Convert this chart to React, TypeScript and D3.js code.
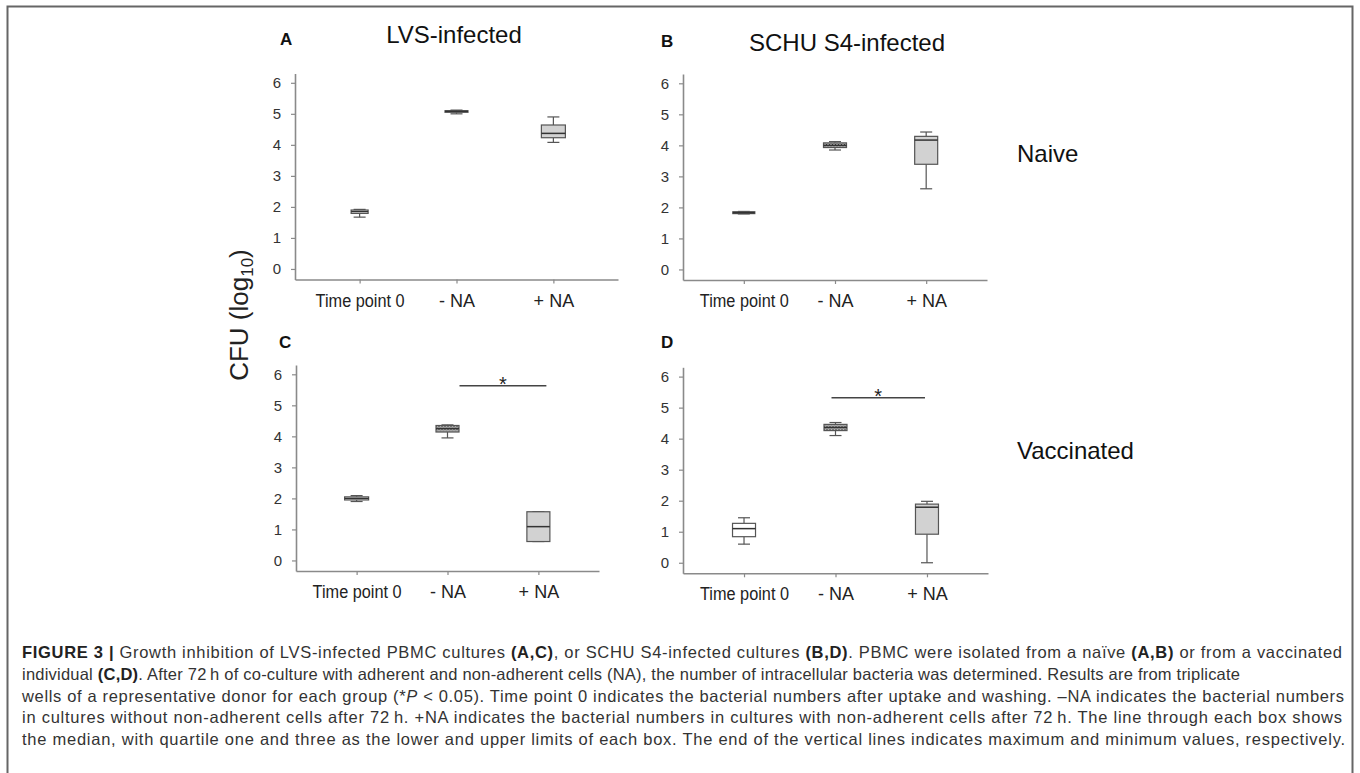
import React, { useEffect, useRef } from 'react';
import * as d3 from 'd3';

const categories = ['Time point 0', '- NA', '+ NA'];
const yTicks = [0, 1, 2, 3, 4, 5, 6];

// [min, q1, median, q3, max] per category, CFU (log10)
const lvsNaive = [
  [1.67, 1.79, 1.85, 1.9, 1.92],
  [5.0, 5.05, 5.08, 5.1, 5.12],
  [4.08, 4.23, 4.37, 4.64, 4.9],
];
const schuNaive = [
  [1.79, 1.8, 1.83, 1.86, 1.87],
  [3.85, 3.93, 4.0, 4.08, 4.12],
  [2.6, 3.39, 4.17, 4.29, 4.43],
];
const lvsVaccinated = [
  [1.9, 1.95, 2.0, 2.05, 2.09],
  [3.95, 4.14, 4.25, 4.35, 4.37],
  [0.61, 0.61, 1.09, 1.57, 1.57],
];
const schuVaccinated = [
  [0.6, 0.84, 1.1, 1.27, 1.45],
  [4.1, 4.26, 4.36, 4.46, 4.52],
  [0.0, 0.92, 1.79, 1.89, 1.98],
];
// significance bar level (-NA vs +NA)
const sigLvsVaccinated = 5.63;
const sigSchuVaccinated = 5.32;

const FONT = "'Liberation Sans', Arial, Helvetica, sans-serif";
const AXIS = '#8a8a8a';
const INK = '#555';
const plotHeight = 206;
const yDomain = [-0.34, 6.3];

const panels = [
  {
    key: 'A', title: 'LVS-infected', stats: lvsNaive,
    left: 295, width: 323, axisY: 279.5,
    titleX: 454, titleY: 43, letterX: 280, letterY: 45,
    fills: ['#fff', 'url(#hatch)', '#d2d2d2'], boxW: [17, 23, 24],
    sig: null, sigOff: [0, 0],
  },
  {
    key: 'B', title: 'SCHU S4-infected', stats: schuNaive,
    left: 683, width: 304, axisY: 280,
    titleX: 847, titleY: 50.5, letterX: 661, letterY: 46.5,
    fills: ['url(#hatch)', 'url(#hatch)', '#d2d2d2'], boxW: [22, 23, 23],
    sig: null, sigOff: [0, 0],
  },
  {
    key: 'C', title: '', stats: lvsVaccinated,
    left: 296, width: 303, axisY: 571,
    titleX: 0, titleY: 0, letterX: 279, letterY: 348,
    fills: ['#fff', 'url(#hatch)', '#d2d2d2'], boxW: [24, 23, 23],
    sig: sigLvsVaccinated, sigOff: [12, 8],
  },
  {
    key: 'D', title: '', stats: schuVaccinated,
    left: 683, width: 305, axisY: 573.3,
    titleX: 0, titleY: 0, letterX: 661, letterY: 348,
    fills: ['#fff', 'url(#hatch)', '#d2d2d2'], boxW: [23, 23, 23],
    sig: sigSchuVaccinated, sigOff: [-4, -2],
  },
];

function BoxPanel({ panel }: { panel: any }) {
  const ref = useRef<SVGGElement>(null);

  useEffect(() => {
    const g = d3.select(ref.current);
    g.selectAll('*').remove();

    const x = d3
      .scalePoint()
      .domain(categories)
      .range([panel.left, panel.left + panel.width])
      .padding(0.667);
    const y = d3
      .scaleLinear()
      .domain(yDomain)
      .range([panel.axisY, panel.axisY - plotHeight]);

    // y axis
    const yAxis = g
      .append('g')
      .attr('transform', `translate(${panel.left},0)`)
      .call(
        d3.axisLeft(y).tickValues(yTicks).tickSize(4).tickSizeOuter(0).tickPadding(10).tickFormat(d3.format('d'))
      )
      .attr('font-family', FONT)
      .attr('font-size', 15);
    yAxis.select('.domain').attr('stroke', AXIS).attr('stroke-width', 1.6);
    yAxis.selectAll('.tick line').attr('stroke', AXIS).attr('stroke-width', 1.2);
    yAxis.selectAll('.tick text').attr('fill', '#333');

    // x axis
    const xAxis = g
      .append('g')
      .attr('transform', `translate(0,${panel.axisY})`)
      .call(d3.axisBottom(x).tickSize(4).tickSizeOuter(0))
      .attr('font-family', FONT)
      .attr('font-size', 18);
    xAxis.select('.domain').attr('stroke', AXIS).attr('stroke-width', 1.6);
    xAxis.selectAll('.tick line').attr('stroke', AXIS).attr('stroke-width', 1.2);
    xAxis
      .selectAll('.tick text')
      .attr('fill', '#222')
      .attr('y', 27)
      .attr('dy', 0)
      .filter((d) => d === categories[0])
      .attr('textLength', 89)
      .attr('lengthAdjust', 'spacingAndGlyphs');

    // boxes
    const capW = 12;
    const boxes = g
      .append('g')
      .selectAll('g')
      .data(panel.stats)
      .join('g')
      .attr('transform', (d, i) => `translate(${x(categories[i])},0)`)
      .attr('stroke', INK)
      .attr('stroke-width', 1.2);

    boxes
      .append('line')
      .attr('y1', (d) => y(d[0]))
      .attr('y2', (d) => y(d[1]));
    boxes
      .append('line')
      .attr('y1', (d) => y(d[3]))
      .attr('y2', (d) => y(d[4]));
    boxes
      .append('line')
      .attr('x1', -capW / 2)
      .attr('x2', capW / 2)
      .attr('y1', (d) => y(d[0]))
      .attr('y2', (d) => y(d[0]));
    boxes
      .append('line')
      .attr('x1', -capW / 2)
      .attr('x2', capW / 2)
      .attr('y1', (d) => y(d[4]))
      .attr('y2', (d) => y(d[4]));
    boxes
      .append('rect')
      .attr('x', (d, i) => -panel.boxW[i] / 2)
      .attr('width', (d, i) => panel.boxW[i])
      .attr('y', (d) => y(d[3]))
      .attr('height', (d) => y(d[1]) - y(d[3]))
      .attr('fill', (d, i) => panel.fills[i]);
    boxes
      .append('line')
      .attr('x1', (d, i) => -panel.boxW[i] / 2)
      .attr('x2', (d, i) => panel.boxW[i] / 2)
      .attr('y1', (d) => y(d[2]))
      .attr('y2', (d) => y(d[2]))
      .attr('stroke', '#333')
      .attr('stroke-width', 1.5);

    // significance bar
    if (panel.sig !== null) {
      const x1 = x(categories[1]) + panel.sigOff[0];
      const x2 = x(categories[2]) + panel.sigOff[1];
      g.append('line')
        .attr('x1', x1)
        .attr('x2', x2)
        .attr('y1', y(panel.sig))
        .attr('y2', y(panel.sig))
        .attr('stroke', '#444')
        .attr('stroke-width', 1.5);
      g.append('text')
        .attr('x', (x1 + x2) / 2)
        .attr('y', y(panel.sig) + 5)
        .attr('text-anchor', 'middle')
        .attr('font-family', FONT)
        .attr('font-size', 20)
        .attr('fill', '#222')
        .text('*');
    }

    // letter and title
    g.append('text')
      .attr('x', panel.letterX)
      .attr('y', panel.letterY)
      .attr('font-family', FONT)
      .attr('font-size', 17)
      .attr('font-weight', 700)
      .attr('fill', '#111')
      .text(panel.key);
    if (panel.title) {
      g.append('text')
        .attr('x', panel.titleX)
        .attr('y', panel.titleY)
        .attr('text-anchor', 'middle')
        .attr('font-family', FONT)
        .attr('font-size', 24)
        .attr('fill', '#111')
        .text(panel.title);
    }
  }, [panel]);

  return <g ref={ref} />;
}

const captionX = 22;
const captionY = 658;
const captionStep = 21.75;

export default function App() {
  const B = { fontWeight: 700, fill: '#222' };
  return (
    <svg
      width={1360}
      height={773}
      style={{ position: 'fixed', left: 0, top: 0, background: '#fff' }}
      fontFamily={FONT}
    >
      <defs>
        <pattern id="hatch" width={3} height={3} patternUnits="userSpaceOnUse">
          <rect width={3} height={3} fill="#b4b4b4" />
          <rect width={1} height={1} fill="#3a3a3a" />
          <rect x={1.5} y={1.5} width={1} height={1} fill="#5a5a5a" />
        </pattern>
      </defs>
      <rect width={1360} height={773} fill="#fff" />
      <path d="M7.5,773 V6.5 H1352.5 V773" fill="none" stroke="#666" strokeWidth={2} />

      {panels.map((p) => (
        <BoxPanel key={p.key} panel={p} />
      ))}

      <text transform="translate(248,315) rotate(-90)" textAnchor="middle" fontSize={26} fill="#222">
        CFU (log
        <tspan fontSize={17} dy={5}>10</tspan>
        <tspan dy={-5}>)</tspan>
      </text>

      <text x={1017} y={162} fontSize={24} fill="#111">Naive</text>
      <text x={1017} y={459} fontSize={24} fill="#111">Vaccinated</text>

      <g fontSize={16.5} fill="#333">
        <text x={captionX} y={captionY} textLength={1320} lengthAdjust="spacing">
          <tspan {...B}>FIGURE 3 | </tspan>Growth inhibition of LVS-infected PBMC cultures <tspan {...B}>(A,C)</tspan>, or SCHU S4-infected cultures <tspan {...B}>(B,D)</tspan>. PBMC were isolated from a naïve <tspan {...B}>(A,B)</tspan> or from a vaccinated
        </text>
        <text x={captionX} y={captionY + captionStep} textLength={1218} lengthAdjust="spacing">
          individual <tspan {...B}>(C,D)</tspan>. After 72{'\u2009'}h of co-culture with adherent and non-adherent cells (NA), the number of intracellular bacteria was determined. Results are from triplicate
        </text>
        <text x={captionX} y={captionY + captionStep * 2} textLength={1322} lengthAdjust="spacing">
          wells of a representative donor for each group (*<tspan fontStyle="italic">P</tspan> {'<'} 0.05). Time point 0 indicates the bacterial numbers after uptake and washing. –NA indicates the bacterial numbers
        </text>
        <text x={captionX} y={captionY + captionStep * 3} textLength={1320} lengthAdjust="spacing">
          in cultures without non-adherent cells after 72{'\u2009'}h. +NA indicates the bacterial numbers in cultures with non-adherent cells after 72{'\u2009'}h. The line through each box shows
        </text>
        <text x={captionX} y={captionY + captionStep * 4} textLength={1323} lengthAdjust="spacing">
          the median, with quartile one and three as the lower and upper limits of each box. The end of the vertical lines indicates maximum and minimum values, respectively.
        </text>
      </g>
    </svg>
  );
}
